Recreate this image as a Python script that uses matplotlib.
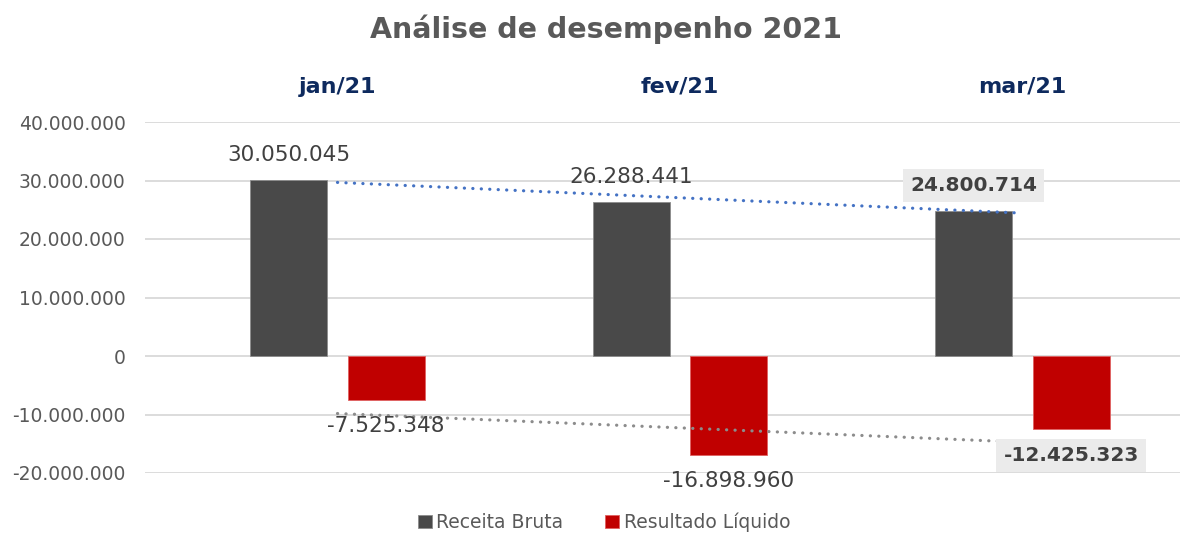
import numpy as np
import matplotlib.pyplot as plt

meses = ['jan/21', 'fev/21', 'mar/21']
receita = [30050045, 26288441, 24800714]
resultado = [-7525348, -16898960, -12425323]
yticks = [-20000000, -10000000, 0, 10000000, 20000000, 30000000, 40000000]


def fmt(v):
    s = '{:,}'.format(abs(v)).replace(',', '.')
    return ('-' if v < 0 else '') + s


plt.rcParams['font.family'] = ['DejaVu Sans']

fig = plt.figure(figsize=(11.84, 5.34), dpi=100)
ax = fig.add_axes([145 / 1184, 1 - 473 / 534, 1035 / 1184, 351 / 534])

x = np.arange(len(meses))
w = 0.225
off = 0.142
ax.bar(x - off, receita, w, color='#494949', edgecolor='#8c8c8c', linewidth=0.6,
       label='Receita Bruta', zorder=3)
ax.bar(x + off, resultado, w, color='#c00000', edgecolor='#e06060', linewidth=0.6,
       label='Resultado Líquido', zorder=3)

# linhas de tendencia (linear)
p1 = np.polyfit(x, receita, 1)
p2 = np.polyfit(x, resultado, 1)
ax.plot(x, np.polyval(p1, x), color='#4472c4', linestyle=(0, (0.05, 2.6)),
        linewidth=2.3, dash_capstyle='round', zorder=4)
ax.plot(x, np.polyval(p2, x), color='#8c8c8c', linestyle=(0, (0.05, 2.6)),
        linewidth=2.3, dash_capstyle='round', zorder=4)

# rotulos dos dados
for i in range(len(meses)):
    last = i == len(meses) - 1
    kw = dict(ha='center', va='center', fontsize=15.5, color='#404040', zorder=5)
    if last:
        kw.update(fontweight='bold', fontsize=14.5,
                  bbox=dict(boxstyle='square,pad=0.35', fc='#ebebeb', ec='none'))
    ax.annotate(fmt(receita[i]), (x[i] - off, receita[i]), xytext=(0, 18),
                textcoords='offset points', **kw)
    ax.annotate(fmt(resultado[i]), (x[i] + off, resultado[i]), xytext=(0, -19),
                textcoords='offset points', **kw)

for i, m in enumerate(meses):
    ax.text(x[i], 1.1, m, transform=ax.get_xaxis_transform(), ha='center', va='center',
            fontsize=16, fontweight='bold', color='#0e2a5e')

ax.set_xlim(-0.562, 2.46)
ax.set_ylim(-20000000, 40000000)
ax.set_yticks(yticks)
ax.set_yticklabels([fmt(v) for v in yticks], fontsize=13.5, color='#595959')
ax.set_xticks([])
ax.tick_params(axis='y', length=0, pad=14)
ax.grid(axis='y', color='#d9d9d9', linewidth=1.3, zorder=0)
for s in ax.spines.values():
    s.set_visible(False)

fig.text(0.512, 0.945, 'Análise de desempenho 2021', ha='center', va='center',
         fontsize=20.5, fontweight='bold', color='#595959')

leg = fig.legend(loc='center', bbox_to_anchor=(0.51, 0.022), ncol=2, frameon=False,
                 fontsize=13.5, handlelength=0.75, handleheight=0.75, handletextpad=0.25,
                 columnspacing=2.2)
for t in leg.get_texts():
    t.set_color('#595959')

fig.savefig('out.png', dpi=100)
